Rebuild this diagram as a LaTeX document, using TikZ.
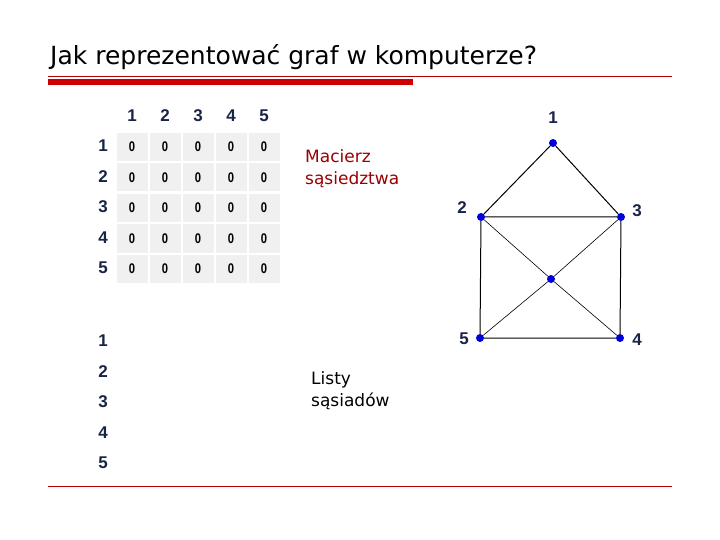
\documentclass[tikz,border=0pt]{standalone}
\usepackage{fontspec}
\setmainfont{DejaVu Sans}
\newfontfamily\cellfont{Liberation Sans}
\definecolor{navy}{RGB}{25,35,70}
\begin{document}
\begin{tikzpicture}[x=1pt,y=-1pt,
  cell/.style={fill=gray!12,minimum width=31pt,minimum height=28pt,inner sep=0,font=\cellfont\bfseries\fontsize{14}{16}\selectfont},
  hd/.style={font=\cellfont\bfseries\fontsize{17}{19}\selectfont,text=navy},
  vx/.style={circle,fill=blue!85!black,inner sep=0,minimum size=8pt},
  vl/.style={font=\cellfont\bfseries\fontsize{17}{19}\selectfont,text=navy},
  ed/.style={line width=1pt},
  dg/.style={line width=0.6pt}]
\useasboundingbox (0,0) rectangle (720,540);
\node[anchor=west,font=\fontsize{25}{28}\selectfont,inner sep=0] (title) at (50,57) {Jak reprezentować graf w komputerze?};
\draw[red!70!black,line width=0.6pt] (48,76) -- (672,76);
\fill[red!80!black] (48,79) rectangle (413,85);
\draw[red!70!black,line width=0.6pt] (48,486) -- (672,486);
\foreach \c [count=\i] in {132,165,198,231,264}{
  \node[hd] (h\i) at (\c,116) {\i};
  \node[hd] (r\i) at (103,146+30.5*\i-30.5) {\i};
  \foreach \r in {1,...,5}{
    \node[cell] (c\i\r) at (\c,147+30.5*\r-30.5) {\scalebox{0.8}[1]{0}};
  }
}
\node[anchor=north west,align=left,text=red!60!black,font=\fontsize{17}{22}\selectfont,inner sep=0] (mac) at (305,149) {Macierz\\sąsiedztwa};
\foreach \i in {1,...,5}{
  \node[hd] (l\i) at (103,341+30.5*\i-30.5) {\i};
}
\node[anchor=north west,align=left,font=\fontsize{17}{22}\selectfont,inner sep=0] (lis) at (311,371) {Listy\\sąsiadów};
\node[vx] (v1) at (553,143) {};
\node[vx] (v2) at (481,217) {};
\node[vx] (v3) at (621,217) {};
\node[vx] (v5) at (480,338) {};
\node[vx] (v4) at (620,338) {};
\node[vx] (vc) at (551,279) {};
\draw[ed] (v1)--(v2) (v1)--(v3) (v2)--(v3) (v2)--(v5) (v3)--(v4) (v5)--(v4);
\draw[dg] (v2)--(vc)--(v4) (v3)--(vc)--(v5);
\node[vl] (n1) at (553,118) {1};
\node[vl] (n2) at (462,208) {2};
\node[vl] (n3) at (637,211) {3};
\node[vl] (n5) at (464,339) {5};
\node[vl] (n4) at (637,340) {4};
\end{tikzpicture}
\end{document}
